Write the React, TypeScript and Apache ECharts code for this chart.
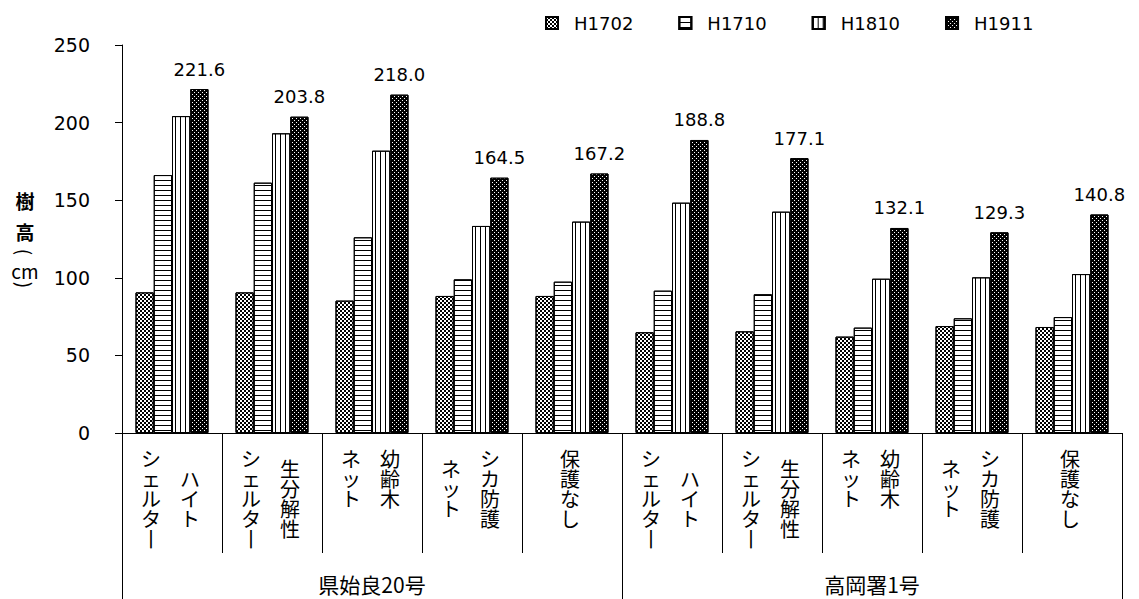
import React, { useEffect, useRef } from "react";
import * as echarts from "echarts";

// Treatment categories (x axis), repeated for both sites
const categories = [
  "ハイトシェルター",
  "生分解性シェルター",
  "幼齢木ネット",
  "シカ防護ネット",
  "保護なし",
  "ハイトシェルター",
  "生分解性シェルター",
  "幼齢木ネット",
  "シカ防護ネット",
  "保護なし",
];

// Vertical tick label columns: first column is drawn on the right
const tickColumns: string[][] = [
  ["ハイト", "シェルター"],
  ["生分解性", "シェルター"],
  ["幼齢木", "ネット"],
  ["シカ防護", "ネット"],
  ["保護なし"],
  ["ハイト", "シェルター"],
  ["生分解性", "シェルター"],
  ["幼齢木", "ネット"],
  ["シカ防護", "ネット"],
  ["保護なし"],
];

const sites = ["県始良20号", "高岡署1号"];

const seriesNames = ["H1702", "H1710", "H1810", "H1911"];

// Tree height (cm)
const h1702 = [90.6, 90.6, 85.3, 88.3, 88.3, 64.9, 65.5, 62.1, 68.9, 68.3];
const h1710 = [166.2, 161.3, 126.1, 99.0, 97.5, 91.7, 89.4, 67.9, 73.9, 74.7];
const h1810 = [204.2, 193.1, 181.9, 133.4, 136.2, 148.4, 142.6, 99.4, 100.3, 102.4];
const h1911 = [221.6, 203.8, 218.0, 164.5, 167.2, 188.8, 177.1, 132.1, 129.3, 140.8];

const yMin = 0;
const yMax = 250;
const yStep = 50;

const NUM_FONT = "DejaVu Sans";
const JP_FONT = "Noto Sans CJK JP";
const LH = 20;

// Build one vertical column of text as rich-text lines, centred in a block of n characters
function columnText(chars: string, n: number, style: string): string {
  const lines: string[] = [];
  let pad = (n - chars.length) / 2;
  while (pad >= 1) {
    lines.push("{gap|　}");
    pad -= 1;
  }
  if (pad >= 0.5) lines.push("{half|　}");
  for (const ch of chars) {
    const c = ch === "ー" ? "丨" : ch;
    lines.push(`{${style}|${c}}`);
  }
  return lines.join("\n");
}

const charStyle = { fontSize: 20, lineHeight: LH, fontFamily: JP_FONT, color: "#000" };
const columnRich = {
  r: { ...charStyle, padding: [0, 0, 0, 36] },
  l: { ...charStyle, padding: [0, 42, 0, 0] },
  s: { ...charStyle, padding: [0, 4, 0, 0] },
  gap: { ...charStyle },
  half: { ...charStyle, lineHeight: LH / 2 },
};

const patterns: any[] = [
  {
    symbol: "rect",
    symbolSize: 1,
    symbolKeepAspect: false,
    color: "#000",
    dashArrayX: [
      [2, 2],
      [0, 2, 2, 0],
    ],
    dashArrayY: [2, 0],
  },
  {
    symbol: "rect",
    symbolSize: 1,
    symbolKeepAspect: false,
    color: "#000",
    dashArrayX: [1, 0],
    dashArrayY: [1, 4],
  },
  {
    symbol: "rect",
    symbolSize: 1,
    symbolKeepAspect: false,
    color: "#000",
    dashArrayX: [1, 4],
    dashArrayY: [1, 0],
  },
  {
    symbol: "rect",
    symbolSize: 1,
    symbolKeepAspect: false,
    color: "#fff",
    dashArrayX: [
      [1, 3],
      [0, 2, 1, 1],
    ],
    dashArrayY: [1, 1],
  },
];

const fills = ["#fff", "#fff", "#fff", "#000"];
const seriesData = [h1702, h1710, h1810, h1911];

export default function App() {
  const ref = useRef<HTMLDivElement>(null);

  useEffect(() => {
    if (!ref.current) return;
    const chart = echarts.init(ref.current, null, { renderer: "svg" });

    const series = seriesNames.map((name, i) => ({
      name,
      type: "bar",
      xAxisIndex: 0,
      yAxisIndex: 0,
      barGap: "0%",
      barCategoryGap: "27%",
      data: seriesData[i],
      itemStyle: {
        color: fills[i],
        borderColor: "#000",
        borderWidth: 1,
        decal: patterns[i],
      },
      label:
        i === 3
          ? {
              show: true,
              position: "top",
              distance: 11,
              fontSize: 18,
              fontFamily: NUM_FONT,
              color: "#000",
              formatter: (p: any) => Number(p.value).toFixed(1),
            }
          : { show: false },
    }));

    // Axis title written vertically: 樹高（cm）
    const yNameGlyphs: { t: string; y: number; w: string; rot: number; size: number }[] = [
      { t: "樹", y: 200, w: "bold", rot: 0, size: 19 },
      { t: "高", y: 231, w: "bold", rot: 0, size: 19 },
      { t: "(", y: 252, w: "normal", rot: -Math.PI / 2, size: 19 },
      { t: "cm", y: 270, w: "normal", rot: 0, size: 19 },
      { t: ")", y: 285, w: "normal", rot: -Math.PI / 2, size: 19 },
    ];

    chart.setOption({
      animation: false,
      backgroundColor: "#fff",
      legend: {
        data: seriesNames,
        left: 540,
        top: 9,
        itemWidth: 12,
        itemHeight: 12,
        itemGap: 45,
        icon: "rect",
        textStyle: {
          fontSize: 18,
          fontFamily: NUM_FONT,
          color: "#000",
          padding: [0, 0, 0, 11],
        },
      },
      grid: { left: 122, right: 17, top: 45, bottom: 166, containLabel: false },
      xAxis: [
        {
          type: "category",
          position: "bottom",
          data: categories,
          axisLine: { show: true, lineStyle: { color: "#000", width: 1 } },
          axisTick: {
            show: true,
            interval: 0,
            length: 120,
            lineStyle: { color: "#000", width: 1 },
          },
          axisLabel: {
            interval: 0,
            margin: 15,
            verticalAlign: "top",
            formatter: (_v: string, idx: number) => {
              const cols = tickColumns[idx];
              const n = Math.max(...cols.map((c) => c.length));
              return columnText(cols[0], n, cols.length > 1 ? "r" : "s");
            },
            rich: columnRich,
          },
        },
        {
          type: "category",
          position: "bottom",
          data: categories,
          axisLine: { show: false },
          axisTick: { show: false },
          axisLabel: {
            interval: 0,
            margin: 15,
            verticalAlign: "top",
            formatter: (_v: string, idx: number) => {
              const cols = tickColumns[idx];
              if (cols.length < 2) return "";
              const n = Math.max(...cols.map((c) => c.length));
              return columnText(cols[1], n, "l");
            },
            rich: columnRich,
          },
        },
        {
          type: "category",
          position: "bottom",
          data: sites,
          axisLine: { show: false },
          axisTick: {
            show: true,
            interval: 0,
            length: 166,
            lineStyle: { color: "#000", width: 1 },
          },
          axisLabel: {
            interval: 0,
            margin: 151,
            verticalAlign: "middle",
            fontSize: 21,
            lineHeight: 22,
            fontFamily: JP_FONT,
            color: "#000",
          },
        },
      ],
      yAxis: {
        type: "value",
        min: yMin,
        max: yMax,
        interval: yStep,
        axisLine: { show: true, lineStyle: { color: "#000", width: 1 } },
        axisTick: { show: true, length: 7, lineStyle: { color: "#000" } },
        splitLine: { show: false },
        axisLabel: {
          margin: 32,
          fontSize: 19,
          fontFamily: NUM_FONT,
          color: "#000",
        },
      },
      graphic: yNameGlyphs.map((g) => ({
        type: "text",
        x: 25,
        y: g.y,
        rotation: g.rot,
        style: {
          text: g.t,
          fontSize: g.size,
          fontWeight: g.w,
          fontFamily: JP_FONT,
          fill: "#000",
          align: "center",
          verticalAlign: "middle",
        },
      })),
      series,
    });

    return () => chart.dispose();
  }, []);

  return (
    <div
      ref={ref}
      style={{ position: "absolute", left: 0, top: 0, width: 1139, height: 599 }}
    />
  );
}
